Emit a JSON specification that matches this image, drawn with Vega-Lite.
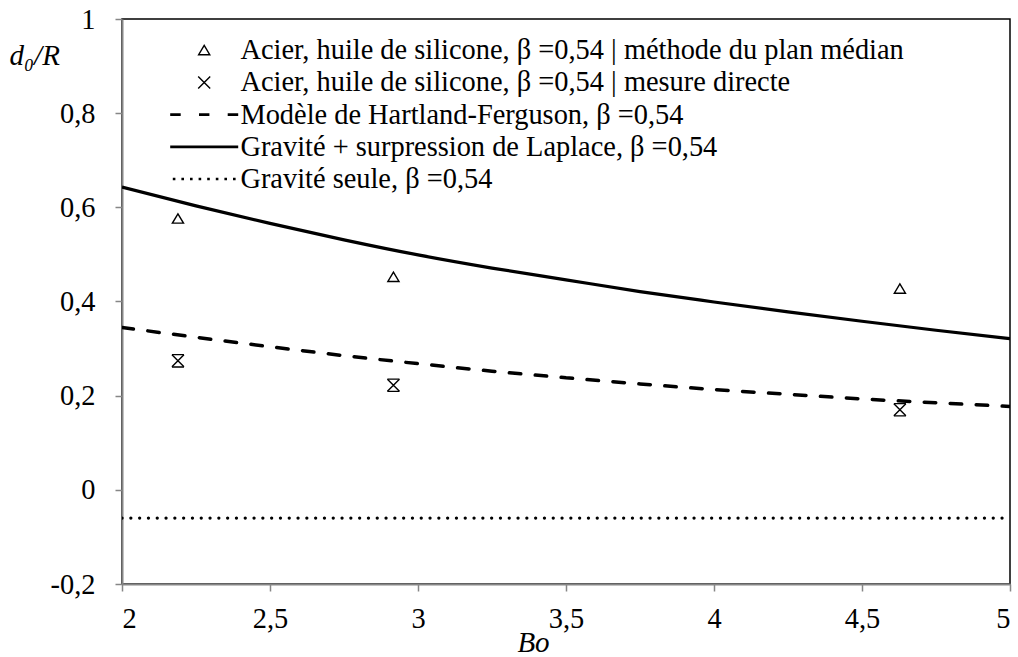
{
  "$schema": "https://vega.github.io/schema/vega-lite/v6.json",
  "width": 888,
  "height": 565,
  "autosize": {"type": "none"},
  "padding": {"left": 122, "top": 19, "right": 8, "bottom": 73},
  "background": "white",
  "config": {
    "view": {"stroke": "#000000", "strokeWidth": 1.5},
    "font": "Liberation Serif",
    "axis": {
      "grid": false,
      "domainColor": "#868686",
      "domainWidth": 2,
      "tickColor": "#868686",
      "tickWidth": 1.5,
      "tickSize": 7,
      "labelFont": "Liberation Serif",
      "labelFontSize": 28.4,
      "labelColor": "#000000",
      "titleFont": "Liberation Serif",
      "titleFontSize": 29,
      "titleFontStyle": "italic",
      "titleFontWeight": "normal",
      "titleColor": "#000000"
    },
    "legend": {
      "labelFont": "Liberation Serif",
      "labelFontSize": 28.4,
      "labelColor": "#000000",
      "labelLimit": 900
    }
  },
  "datasets": {
    "mesures": [
      {"serie": "Acier, huile de silicone, β =0,54 | méthode du plan médian", "Bo": 2.189, "d0R": 0.576},
      {"serie": "Acier, huile de silicone, β =0,54 | méthode du plan médian", "Bo": 2.917, "d0R": 0.452},
      {"serie": "Acier, huile de silicone, β =0,54 | méthode du plan médian", "Bo": 4.628, "d0R": 0.427},
      {"serie": "Acier, huile de silicone, β =0,54 | mesure directe", "Bo": 2.189, "d0R": 0.274},
      {"serie": "Acier, huile de silicone, β =0,54 | mesure directe", "Bo": 2.917, "d0R": 0.222},
      {"serie": "Acier, huile de silicone, β =0,54 | mesure directe", "Bo": 4.628, "d0R": 0.170}
    ],
    "hartland": [
      {"Bo": 2.0, "d0R": 0.345}, {"Bo": 2.25, "d0R": 0.324}, {"Bo": 2.5, "d0R": 0.304},
      {"Bo": 2.75, "d0R": 0.285}, {"Bo": 3.0, "d0R": 0.268}, {"Bo": 3.25, "d0R": 0.252},
      {"Bo": 3.5, "d0R": 0.238}, {"Bo": 3.75, "d0R": 0.225}, {"Bo": 4.0, "d0R": 0.213},
      {"Bo": 4.25, "d0R": 0.203}, {"Bo": 4.5, "d0R": 0.193}, {"Bo": 4.75, "d0R": 0.185},
      {"Bo": 5.0, "d0R": 0.177}
    ],
    "laplace": [
      {"Bo": 2.0, "d0R": 0.643}, {"Bo": 2.25, "d0R": 0.603}, {"Bo": 2.5, "d0R": 0.566},
      {"Bo": 2.75, "d0R": 0.531}, {"Bo": 3.0, "d0R": 0.499}, {"Bo": 3.25, "d0R": 0.471},
      {"Bo": 3.5, "d0R": 0.446}, {"Bo": 3.75, "d0R": 0.421}, {"Bo": 4.0, "d0R": 0.399},
      {"Bo": 4.25, "d0R": 0.378}, {"Bo": 4.5, "d0R": 0.358}, {"Bo": 4.75, "d0R": 0.339},
      {"Bo": 5.0, "d0R": 0.321}
    ],
    "gravite": [
      {"Bo": 2.0, "d0R": -0.06}, {"Bo": 5.0, "d0R": -0.06}
    ]
  },
  "encoding": {
    "x": {
      "field": "Bo", "type": "quantitative",
      "scale": {"domain": [2, 5], "nice": false, "zero": false},
      "axis": {
        "title": "Bo",
        "values": [2, 2.5, 3, 3.5, 4, 4.5, 5],
        "labelExpr": "replace(toString(datum.value), '.', ',')",
        "labelPadding": 14,
        "titleX": 411,
        "titleY": 67,
        "titleAlign": "center",
        "titleBaseline": "alphabetic"
      }
    },
    "y": {
      "field": "d0R", "type": "quantitative",
      "scale": {"domain": [-0.2, 1], "nice": false, "zero": false},
      "axis": {
        "title": "d₀/R",
        "values": [-0.2, 0, 0.2, 0.4, 0.6, 0.8, 1],
        "labelExpr": "replace(toString(datum.value), '.', ',')",
        "labelPadding": 20,
        "titleAngle": 0,
        "titleAlign": "left",
        "titleBaseline": "alphabetic",
        "titleX": -113,
        "titleY": 45
      }
    }
  },
  "layer": [
    {
      "data": {"name": "gravite"},
      "mark": {"type": "line", "color": "#000000", "strokeWidth": 3.2, "strokeDash": [0.1, 8.7], "strokeCap": "round", "clip": true}
    },
    {
      "data": {"name": "hartland"},
      "mark": {"type": "line", "color": "#000000", "strokeWidth": 3.5, "strokeDash": [11.5, 14.5], "strokeCap": "round", "interpolate": "monotone", "clip": true}
    },
    {
      "data": {"name": "laplace"},
      "mark": {"type": "line", "color": "#000000", "strokeWidth": 3.2, "interpolate": "monotone", "clip": true}
    },
    {
      "data": {"name": "mesures"},
      "transform": [{"filter": "datum.serie === 'Acier, huile de silicone, β =0,54 | mesure directe'"}],
      "mark": {
        "type": "point", "filled": true, "color": "#000000", "strokeWidth": 0, "size": 400, "opacity": 1,
        "shape": "M-0.6,-0.68H0.6V-0.55H-0.6ZM-0.6,0.55H0.6V0.68H-0.6Z"
      }
    },
    {
      "data": {"name": "mesures"},
      "mark": {"type": "point", "filled": true, "color": "#000000", "strokeWidth": 0, "size": 400, "opacity": 1},
      "encoding": {
        "shape": {
          "field": "serie", "type": "nominal",
          "scale": {
            "domain": [
              "Acier, huile de silicone, β =0,54 | méthode du plan médian",
              "Acier, huile de silicone, β =0,54 | mesure directe",
              "Modèle de Hartland-Ferguson, β =0,54",
              "Gravité + surpression de Laplace, β =0,54",
              "Gravité seule, β =0,54"
            ],
            "range": [
              "M0,-0.62L0.68,0.52L-0.68,0.52ZM0,-0.346L-0.433,0.38L0.433,0.38Z",
              "M-0.55,-0.65L0.65,0.55L0.55,0.65L-0.65,-0.55ZM-0.65,0.55L0.55,-0.65L0.65,-0.55L-0.55,0.65Z",
              "M-3.4,-0.14H-2.35V0.14H-3.4ZM-0.52,-0.14H0.52V0.14H-0.52ZM2.35,-0.14H3.4V0.14H2.35Z",
              "M-3.4,-0.14H3.4V0.14H-3.4Z",
              "M-3.14,-0.13h0.26v0.26h-0.26ZM-2.28,-0.13h0.26v0.26h-0.26ZM-1.42,-0.13h0.26v0.26h-0.26ZM-0.56,-0.13h0.26v0.26h-0.26ZM0.3,-0.13h0.26v0.26h-0.26ZM1.16,-0.13h0.26v0.26h-0.26ZM2.02,-0.13h0.26v0.26h-0.26ZM2.88,-0.13h0.26v0.26h-0.26Z"
            ]
          },
          "legend": {
            "title": null,
            "orient": "none",
            "legendX": 68,
            "legendY": 17,
            "padding": 0,
            "symbolSize": 400,
            "symbolFillColor": "#000000",
            "symbolStrokeWidth": 0,
            "symbolOpacity": 1,
            "labelOffset": 22,
            "rowPadding": 3.2
          }
        }
      }
    }
  ]
}
